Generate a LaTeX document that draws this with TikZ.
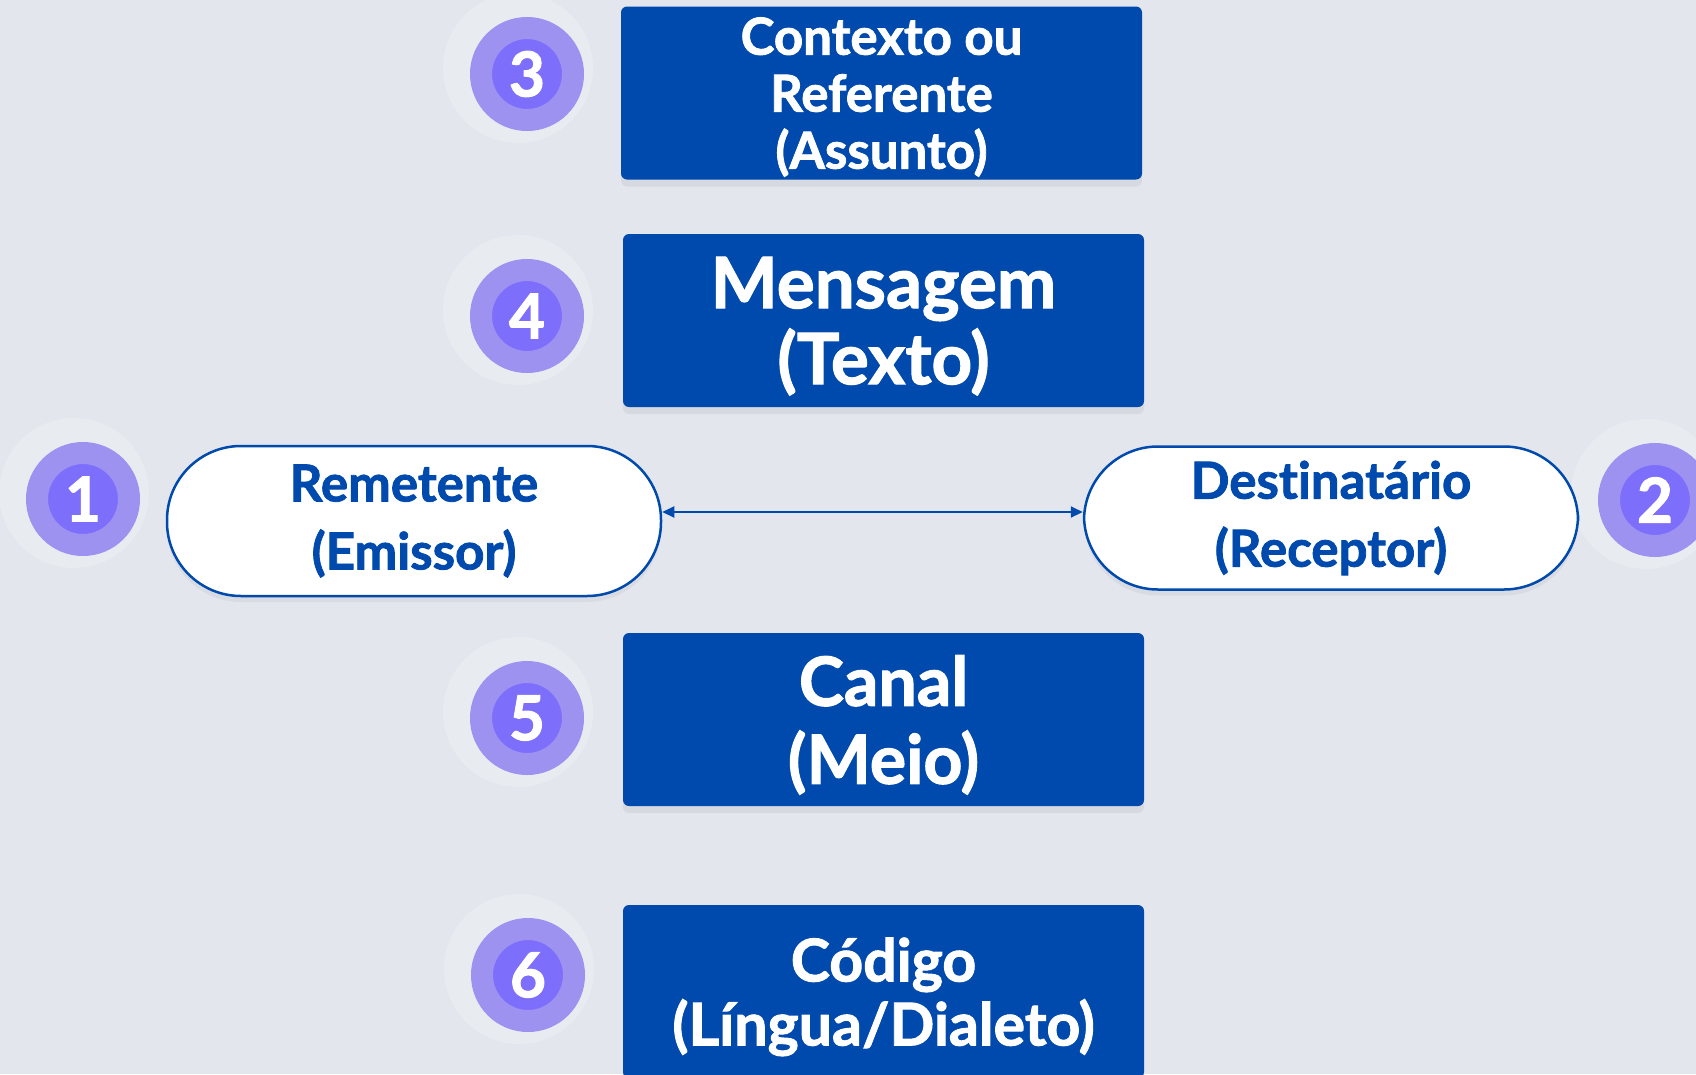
\documentclass[tikz,border=0pt]{standalone}
\usepackage{fontspec}
\setmainfont{Lato}[Ligatures=NoCommon, BoldFeatures={FakeBold=1.6}]
\usetikzlibrary{arrows.meta,shadows}
\definecolor{boxblue}{RGB}{0,74,173}
\definecolor{ringout}{RGB}{158,146,240}
\definecolor{ringin}{RGB}{126,110,252}
\definecolor{bgcol}{RGB}{227,230,237}
\tikzstyle{blue box}=[
        fill = boxblue,
        rounded corners = 6pt,
        minimum width = 521pt,
        minimum height = 173pt,
        inner sep = 0pt,
        text = white,
        text depth = 0pt,
        align = center,
        drop shadow = {opacity=0.12, shadow xshift=0pt, shadow yshift=-7pt}
    ]
\tikzstyle{pill}=[
        draw = boxblue,
        line width = 2.5pt,
        fill = white,
        rounded corners = 74pt,
        minimum width = 494pt,
        minimum height = 150pt,
        inner sep = 0pt,
        text = boxblue,
        align = center,
        font = \fontsize{51}{68}\selectfont\bfseries,
        drop shadow = {opacity=0.10, shadow xshift=0pt, shadow yshift=-6pt}
    ]
\tikzstyle{num}=[
        circle,
        fill = ringin,
        draw = ringout,
        line width = 22pt,
        minimum size = 92pt,
        inner sep = 0pt,
        text = white,
        font = \fontsize{62}{62}\selectfont\bfseries
    ]
\tikzstyle{halo}=[
        circle,
        fill = white,
        fill opacity = 0.2,
        minimum size = 150pt
    ]

\begin{document}
\begin{tikzpicture}[x=1pt, y=-1pt]
        \fill[bgcol] (0,0) rectangle (1696,1074);
        \useasboundingbox (0,0) rectangle (1696,1074);

        \foreach \x/\y in {83/499, 1655/500, 527/74, 527/316, 527/718, 528/975}
            \node[halo] at (\x-9,\y-6) {};

        \node[blue box, font=\fontsize{51}{57}\selectfont\bfseries] (ctx) at (881.5,93) {Contexto ou\\Referente\\(Assunto)};
        \node[blue box, font=\fontsize{71}{76}\selectfont\bfseries] (msg) at (883.5,320.5) {Mensagem\\(Texto)};
        \node[blue box, font=\fontsize{68}{78}\selectfont\bfseries] (canal) at (883.5,719.5) {Canal\\(Meio)};
        \node[blue box, font=\fontsize{59}{64}\selectfont\bfseries] (cod) at (883.5,991.5) {Código\\(Língua/Dialeto)};

        \node[pill] (rem) at (414,521) {Remetente\\(Emissor)};
        \node[pill, minimum height = 143pt] (dest) at (1331,518) {Destinatário\\(Receptor)};

        \node[num] (n1) at (83,499) {1};
        \node[num] (n2) at (1655,500) {2};
        \node[num] (n3) at (527,74) {3};
        \node[num] (n4) at (527,316) {4};
        \node[num] (n5) at (527,718) {5};
        \node[num] (n6) at (528,975) {6};

        \draw[boxblue, line width=2pt, {Triangle[length=12pt,width=11pt]}-{Triangle[length=12pt,width=11pt]}] ([yshift=9pt]rem.east) -- ([yshift=6pt]dest.west);

    \end{tikzpicture}
\end{document}
